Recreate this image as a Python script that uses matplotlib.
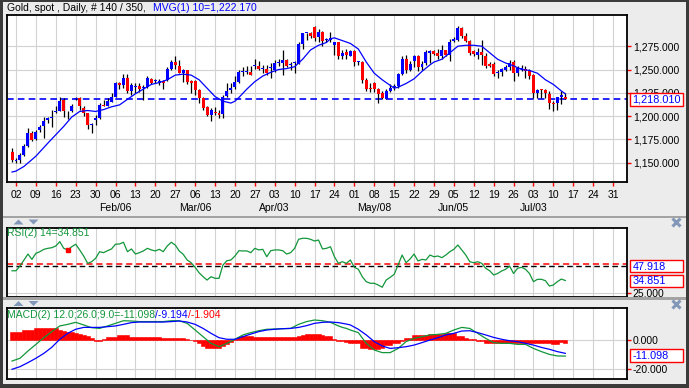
import numpy as np
import matplotlib
matplotlib.use('Agg')
import matplotlib.pyplot as plt
from matplotlib.patches import Rectangle, Polygon

# ---- data (bar 0 = Dec 30, bar 1 = Jan 02, one bar per weekday) ----
opens = [1162, 1152, 1153, 1158, 1168, 1182, 1175, 1185, 1189, 1196, 1198, 1204, 1205, 1217, 1204, 1205,
         1218, 1219, 1209, 1203, 1190, 1196, 1198, 1212, 1211, 1215, 1221, 1235, 1233, 1241, 1227, 1231,
         1232, 1230, 1231, 1240, 1238, 1236, 1238, 1239, 1251, 1258, 1254, 1246, 1249, 1238, 1238, 1228,
         1219, 1210, 1201, 1204, 1203, 1202, 1222, 1228, 1231, 1237, 1247, 1247, 1247, 1254, 1254, 1251,
         1251, 1252, 1249, 1257, 1257, 1260, 1255, 1257, 1256, 1277, 1289, 1289, 1296, 1285, 1290, 1282,
         1282, 1276, 1279, 1265, 1269, 1265, 1270, 1258, 1258, 1239, 1230, 1236, 1229, 1225, 1218, 1227,
         1231, 1232, 1245, 1261, 1250, 1259, 1265, 1253, 1257, 1268, 1270, 1268, 1264, 1271, 1266, 1281,
         1282, 1295, 1286, 1281, 1270, 1266, 1269, 1265, 1256, 1256, 1246, 1247, 1250, 1253, 1258, 1246,
         1251, 1251, 1249, 1244, 1225, 1229, 1228, 1224, 1214, 1214, 1220, 1221]
highs = [1166, 1155, 1160, 1170, 1187, 1184, 1185, 1190, 1199, 1199, 1207, 1211, 1220, 1219, 1205, 1213,
         1220, 1220, 1211, 1203, 1193, 1201, 1214, 1217, 1219, 1225, 1237, 1237, 1245, 1245, 1235, 1236,
         1236, 1233, 1243, 1241, 1240, 1240, 1239, 1253, 1260, 1264, 1260, 1251, 1250, 1239, 1239, 1229,
         1220, 1211, 1209, 1210, 1207, 1223, 1235, 1236, 1243, 1249, 1253, 1254, 1254, 1261, 1259, 1255,
         1255, 1257, 1260, 1261, 1271, 1261, 1258, 1259, 1279, 1289, 1289, 1290, 1297, 1294, 1291, 1284,
         1290, 1280, 1280, 1271, 1272, 1271, 1271, 1259, 1259, 1241, 1236, 1237, 1230, 1227, 1229, 1234,
         1234, 1246, 1264, 1266, 1259, 1266, 1266, 1259, 1271, 1271, 1271, 1272, 1276, 1271, 1283, 1285,
         1297, 1296, 1289, 1282, 1271, 1273, 1282, 1268, 1258, 1258, 1250, 1252, 1255, 1260, 1260, 1254,
         1255, 1254, 1251, 1245, 1229, 1229, 1229, 1227, 1216, 1221, 1227, 1225]
lows = [1151, 1150, 1150, 1157, 1167, 1173, 1174, 1183, 1177, 1193, 1188, 1203, 1205, 1199, 1197, 1204,
        1217, 1207, 1200, 1186, 1182, 1191, 1197, 1211, 1211, 1215, 1221, 1229, 1230, 1225, 1223, 1225,
        1226, 1217, 1230, 1234, 1235, 1233, 1229, 1238, 1250, 1251, 1246, 1237, 1234, 1225, 1223, 1214,
        1207, 1200, 1195, 1201, 1198, 1198, 1221, 1225, 1229, 1236, 1243, 1245, 1244, 1251, 1250, 1246,
        1244, 1241, 1247, 1254, 1244, 1253, 1250, 1246, 1256, 1272, 1282, 1284, 1281, 1280, 1275, 1279,
        1280, 1266, 1261, 1261, 1261, 1264, 1254, 1255, 1236, 1227, 1226, 1226, 1214, 1218, 1218, 1226,
        1228, 1230, 1244, 1246, 1248, 1253, 1248, 1250, 1255, 1257, 1266, 1261, 1261, 1264, 1259, 1279,
        1281, 1284, 1280, 1266, 1264, 1261, 1255, 1252, 1253, 1243, 1241, 1243, 1248, 1250, 1238, 1243,
        1248, 1241, 1240, 1219, 1219, 1219, 1219, 1208, 1205, 1207, 1213, 1218]
closes = [1153, 1153, 1158, 1168, 1182, 1174, 1183, 1188, 1195, 1198, 1199, 1205, 1216, 1205, 1204, 1211,
          1219, 1211, 1203, 1190, 1192, 1198, 1212, 1211, 1216, 1221, 1235, 1233, 1241, 1227, 1233, 1231,
          1229, 1230, 1241, 1236, 1238, 1238, 1236, 1251, 1258, 1255, 1246, 1249, 1237, 1236, 1228, 1219,
          1209, 1201, 1207, 1203, 1201, 1221, 1227, 1230, 1237, 1247, 1247, 1247, 1244, 1254, 1251, 1251,
          1246, 1253, 1257, 1257, 1260, 1254, 1255, 1257, 1277, 1289, 1289, 1286, 1284, 1290, 1281, 1282,
          1284, 1279, 1265, 1268, 1266, 1270, 1258, 1258, 1239, 1229, 1229, 1229, 1224, 1219, 1227, 1230,
          1231, 1245, 1261, 1249, 1256, 1264, 1253, 1256, 1269, 1270, 1267, 1264, 1271, 1266, 1280, 1283,
          1295, 1286, 1281, 1268, 1267, 1269, 1266, 1254, 1254, 1245, 1247, 1251, 1253, 1257, 1246, 1252,
          1251, 1248, 1243, 1225, 1228, 1228, 1225, 1214, 1213, 1220, 1223, 1218.01]

# 10-bar moving average as drawn (read every couple of bars)
ma_bar = [0, 1, 3, 6, 9, 11, 13, 15, 17, 19, 21, 23, 25, 27, 29, 31, 33, 35, 37, 39, 41, 43, 45, 47, 49,
          51, 53, 55, 56, 57, 59, 61, 63, 65, 67, 69, 71, 73, 75, 77, 79, 80, 81, 83, 85, 87, 89, 91, 93,
          95, 96, 97, 99, 101, 103, 105, 106, 108, 110, 112, 114, 116, 118, 120, 122, 124, 126, 128, 130,
          132, 134, 136, 138, 139]
ma_val = [1140, 1141, 1146, 1157, 1171, 1180, 1189, 1199, 1205, 1206, 1205, 1207, 1210, 1212, 1218, 1224,
          1229, 1234, 1236, 1239, 1244, 1245, 1244, 1239, 1230, 1221, 1216, 1214, 1216, 1220, 1229, 1237,
          1243, 1247, 1250, 1251, 1253, 1261, 1271, 1276, 1279, 1283, 1284, 1281, 1278, 1272, 1258, 1246,
          1239, 1233, 1230, 1231, 1235, 1240, 1248, 1255, 1258, 1261, 1268, 1275, 1276, 1276, 1275, 1268,
          1261, 1257, 1254, 1250, 1249, 1246, 1239, 1234, 1227, 1224]

rsi = [42.7, 42.7, 46.5, 51.4, 56.2, 51.9, 56.8, 58.1, 60.0, 60.8, 61.3, 62.7, 66.2, 60.8, 59.5, 62.1,
       64.1, 59.5, 54.6, 48.7, 50.0, 52.7, 58.1, 57.3, 58.9, 60.3, 64.1, 64.3, 65.7, 58.1, 60.3, 56.2,
       57.3, 58.7, 60.8, 59.5, 58.7, 60.0, 58.1, 62.7, 65.7, 63.5, 58.7, 56.0, 51.4, 49.2, 45.5, 41.1,
       37.9, 35.2, 37.9, 36.6, 36.6, 47.4, 50.8, 51.4, 54.6, 58.9, 58.7, 58.7, 57.3, 60.8, 59.5, 60.0,
       54.0, 58.9, 59.5, 59.5, 58.9, 56.2, 57.3, 60.8, 68.1, 68.9, 68.9, 68.1, 66.7, 67.5, 60.3, 60.8,
       62.1, 54.0, 48.7, 50.0, 48.7, 51.4, 45.5, 43.9, 37.9, 33.9, 32.6, 32.6, 31.2, 29.4, 35.2, 37.4,
       39.8, 47.4, 55.4, 49.2, 52.2, 56.2, 50.6, 51.9, 51.4, 55.4, 54.0, 54.6, 53.3, 55.4, 58.1, 60.0,
       63.5, 59.5, 55.4, 50.0, 49.2, 50.0, 48.7, 44.7, 42.7, 39.3, 40.5, 42.5, 43.9, 46.5, 40.5, 44.7,
       45.5, 43.9, 40.5, 33.9, 35.8, 35.8, 34.7, 30.4, 31.2, 33.9, 36.0, 34.851]
rsi_level = 47.918
rsi_base = 46.5

macd_bar = [0, 2, 4, 6, 8, 10, 12, 14, 16, 18, 20, 22, 24, 26, 28, 30, 32, 34, 36, 38, 40, 42, 44, 46,
            48, 50, 52, 54, 56, 58, 60, 62, 64, 66, 68, 70, 72, 74, 76, 78, 80, 82, 83, 84, 85, 87, 89,
            91, 93, 95, 97, 99, 101, 103, 105, 107, 109, 111, 113, 115, 117, 119, 121, 123, 125, 127,
            129, 131, 133, 135, 137, 139]
macd_line = [-14.5, -12.6, -7.6, -3.0, 1.6, 5.8, 9.7, 10.8, 12.2, 10.4, 8.5, 8.0, 9.7, 11.5, 13.3, 13.1,
             12.7, 12.7, 12.7, 12.7, 13.3, 13.3, 11.5, 6.9, 2.3, -2.3, -4.6, -2.3, 0.5, 3.5, 5.1, 6.4,
             7.4, 7.6, 7.8, 8.0, 10.8, 12.7, 13.8, 13.3, 12.2, 9.7, 8.7, 8.0, 6.9, 5.1, -2.3, -6.9, -8.7,
             -8.7, -5.8, -1.1, 1.1, 2.3, 3.5, 3.9, 4.6, 6.9, 8.7, 8.0, 4.6, 1.1, -1.8, -2.3, -2.3, -3.0,
             -3.0, -5.8, -8.0, -9.9, -11.0, -11.098]
signal_line = [-20.2, -18.4, -15.6, -12.6, -9.2, -5.0, 0.5, 4.6, 7.4, 8.7, 8.7, 8.7, 9.2, 9.7, 10.8, 12.0,
               12.4, 12.4, 12.4, 12.4, 12.7, 13.1, 12.4, 10.8, 8.0, 4.6, 1.6, 0.5, 0.5, 2.3, 4.1, 5.8,
               6.9, 7.4, 7.8, 8.0, 8.7, 9.9, 11.5, 12.2, 12.4, 12.0, 11.5, 11.0, 10.4, 7.4, 3.5, -1.1,
               -4.1, -5.8, -5.3, -4.6, -3.5, -1.8, 0.0, 1.6, 3.5, 4.6, 6.2, 6.4, 5.1, 3.5, 1.8, 0.5, -0.5,
               -1.1, -2.3, -3.5, -5.1, -6.4, -8.0, -9.194]
macd_hist = [5.8, 5.8, 5.8, 6.9, 6.9, 6.9, 8.0, 8.0, 8.0, 8.0, 8.0, 8.5, 6.9, 6.4, 5.8, 5.2, 4.6, 4.0, 3.4,
             2.8, 1.2, -0.5, -0.5, 0.6, 2.3, 2.3, 2.3, 3.4, 3.4, 3.4, 2.3, 2.3, 2.0, 2.0, 1.8, 1.8, 1.8,
             1.8, 1.6, 1.6, 1.6, 1.4, 1.4, 1.2, 1.0, 0.3, -1.0, -2.3, -4.0, -5.2, -5.8, -5.8, -5.2, -4.0,
             -2.8, -1.5, 0.5, 2.3, 2.5, 2.5, 2.5, 2.3, 2.3, 2.0, 2.0, 2.0, 2.0, 1.8, 1.8, 1.8, 2.0, 2.3,
             2.8, 3.4, 3.9, 3.9, 3.9, 3.9, 3.4, 3.0, 2.5, 0.5, -0.5, -1.0, -1.2, -1.8, -2.3, -2.3, -5.8,
             -5.8, -6.4, -6.4, -6.4, -5.8, -3.5, -3.5, -2.3, -2.3, -0.5, 1.6, 1.6, 3.5, 3.5, 3.5, 3.5,
             3.9, 3.9, 3.9, 3.9, 4.6, 4.6, 4.6, 2.8, 2.8, 1.6, 0.7, 0.7, -0.5, -0.5, -1.8, -1.8, -1.8,
             -2.3, -2.3, -2.3, -2.3, -2.3, -2.3, -2.3, -1.8, -1.8, -1.8, -2.3, -2.3, -2.3, -2.3, -3.0,
             -3.0, -1.4, -1.904]

week_labels = ['02', '09', '16', '23', '30', '06', '13', '20', '27', '06', '13', '20', '27', '03', '10',
               '17', '24', '01', '08', '15', '22', '29', '05', '12', '19', '26', '03', '10', '17', '24', '31']
week_bar = [1 + 5 * k for k in range(len(week_labels))]
month_labels = ['Feb/06', 'Mar/06', 'Apr/03', 'May/08', 'Jun/05', 'Jul/03']
month_bar = [26, 46, 66, 91, 111, 131]
price_ticks = [1150, 1175, 1200, 1225, 1250, 1275]

# ---- layout helpers (pixel boxes on a 689x388 canvas) ----
W, H = 689, 388
BG = '#ececec'
GRID = '#d2d2d2'
GREEN = '#12963a'
FRAME_BLUE = '#8397b8'


def px_box(left, top, right, bottom):
    return [left / W, 1 - bottom / H, (right - left) / W, (bottom - top) / H]


plt.rcParams['font.family'] = ['Liberation Sans', 'DejaVu Sans']
plt.rcParams['font.size'] = 7.5

fig = plt.figure(figsize=(W / 100, H / 100), dpi=100, facecolor=BG)

ax = fig.add_axes(px_box(7, 15, 627, 182))
ax_rsi = fig.add_axes(px_box(7, 227.7, 627, 296.7))
ax_macd = fig.add_axes(px_box(7, 308.3, 627, 379.3))

for a in (ax, ax_rsi, ax_macd):
    a.set_xlim(-1.26, 154.5)
    a.set_xticks(week_bar)
    a.set_facecolor('white')
    a.grid(True, color=GRID, lw=0.8)
    a.set_axisbelow(True)
    a.yaxis.tick_right()
    a.tick_params(axis='y', length=3, width=1, color='red', labelcolor='black', pad=1.2, labelsize=7.5)
    for s in a.spines.values():
        s.set_linewidth(1.3)
        s.set_color('black')

# ---- price panel ----
bars = np.arange(len(closes))
o = np.array(opens, dtype=float)
c = np.array(closes, dtype=float)
up = c >= o
body_low = np.minimum(o, c)
body_h = np.maximum(np.abs(c - o), 0.9)
ax.vlines(bars, lows, highs, color='black', lw=0.9, zorder=2)
ax.bar(bars, body_h, bottom=body_low, width=0.75, color=np.where(up, '#0000ff', '#ff0000'),
       linewidth=0, zorder=3)
ax.plot(ma_bar, ma_val, color='#0000ff', lw=0.9, zorder=4)
ax.axhline(closes[-1], color='#0000ff', lw=1.2, ls=(0, (4, 2.5)), zorder=1.5)
ax.set_ylim(1129.3, 1308.5)
ax.set_yticks(price_ticks)
ax.set_yticklabels([f'{v:,.3f}' for v in price_ticks])
ax.set_xticklabels(week_labels)
ax.tick_params(axis='x', length=3, width=1, color='red', labelcolor='black', pad=2.5, labelsize=7.5)
for lab, b in zip(month_labels, month_bar):
    ax.text(b, -0.158, lab, transform=ax.get_xaxis_transform(), ha='center', va='center',
            fontsize=7.5, clip_on=False)

# ---- RSI panel ----
ax_rsi.plot(bars, rsi, color=GREEN, lw=0.9, zorder=3)
ax_rsi.axhline(rsi_level, color='red', lw=1.1, ls=(0, (4, 2.5)), zorder=2)
ax_rsi.axhline(rsi_base, color='black', lw=1.0, ls=(0, (4, 2.5)), zorder=2)
ax_rsi.plot([14], [rsi[14]], marker='s', ms=2.5, color='red', zorder=4)
ax_rsi.set_ylim(21.77, 77.45)
ax_rsi.set_yticks([25])
ax_rsi.set_yticklabels(['25.000'])
ax_rsi.tick_params(axis='x', length=0, labelbottom=False)

# ---- MACD panel ----
ax_macd.bar(bars, macd_hist, width=1.0, color='#ff0000', edgecolor='#ff0000', linewidth=0.4, zorder=2)
ax_macd.plot(macd_bar, macd_line, color=GREEN, lw=0.9, zorder=3)
ax_macd.plot(macd_bar, signal_line, color='#0000ff', lw=0.9, zorder=3)
ax_macd.set_ylim(-27.1, 21.87)
ax_macd.set_yticks([0, -20])
ax_macd.set_yticklabels(['0.000', '-20.000'])
ax_macd.tick_params(axis='x', length=0, labelbottom=False)

# ---- overlay in pixel coordinates: frame, separators, captions, value boxes ----
ov = fig.add_axes([0, 0, 1, 1], zorder=10)
ov.set_xlim(0, W)
ov.set_ylim(H, 0)
ov.axis('off')
ov.patch.set_alpha(0)

for x0, y0, w, h in [(0, 0, W, 2), (0, 0, 2.5, H), (685.5, 0, 3.5, H), (0, 384, W, 4)]:
    ov.add_patch(Rectangle((x0, y0), w, h, color='#3b3b3b', lw=0))
for y0 in (215.5, 297.3):
    ov.add_patch(Rectangle((2.5, y0), 683, 2.4, color='#a3a3a3', lw=0))
for ty in (219.5, 301.0):
    ov.add_patch(Polygon([(13.5, ty + 5), (23.5, ty + 5), (18.5, ty)], color=FRAME_BLUE, lw=0))
    ov.add_patch(Polygon([(28.5, ty), (38.5, ty), (33.5, ty + 5)], color=FRAME_BLUE, lw=0))
    ov.plot([675.5], [ty + 2.5], marker='x', ms=5.5, mew=2.2, color=FRAME_BLUE)

ov.text(7, 8.3, 'Gold, spot , Daily, # 140 / 350, ', color='black', va='center', ha='left')
ov.text(153, 8.3, 'MVG(1) 10=1,222.170', color='#0000ff', va='center', ha='left')
ov.text(7, 233.5, 'RSI(2) 14=34.851', color=GREEN, va='center', ha='left')

renderer = fig.canvas.get_renderer()
x = 7
for s, col in [('MACD(2) 12.0;26.0;9.0=-11.098', GREEN), ('/-9.194', '#0000ff'), ('/-1.904', '#ff0000')]:
    t = ov.text(x, 315.5, s, color=col, va='center', ha='left')
    x += t.get_window_extent(renderer).width

for top, label in [(93.3, f'{closes[-1]:,.3f}'), (260.2, f'{rsi_level:.3f}'),
                   (274.7, f'{rsi[-1]:.3f}'), (349.3, f'{macd_line[-1]:.3f}')]:
    ov.add_patch(Rectangle((630, top), 53, 12.2, facecolor='white', edgecolor='red', lw=1.0))
    ov.text(632.5, top + 6.3, label, color='#0000ff', va='center', ha='left', fontsize=7.8)

fig.savefig('out.png', dpi=100, facecolor=BG)
